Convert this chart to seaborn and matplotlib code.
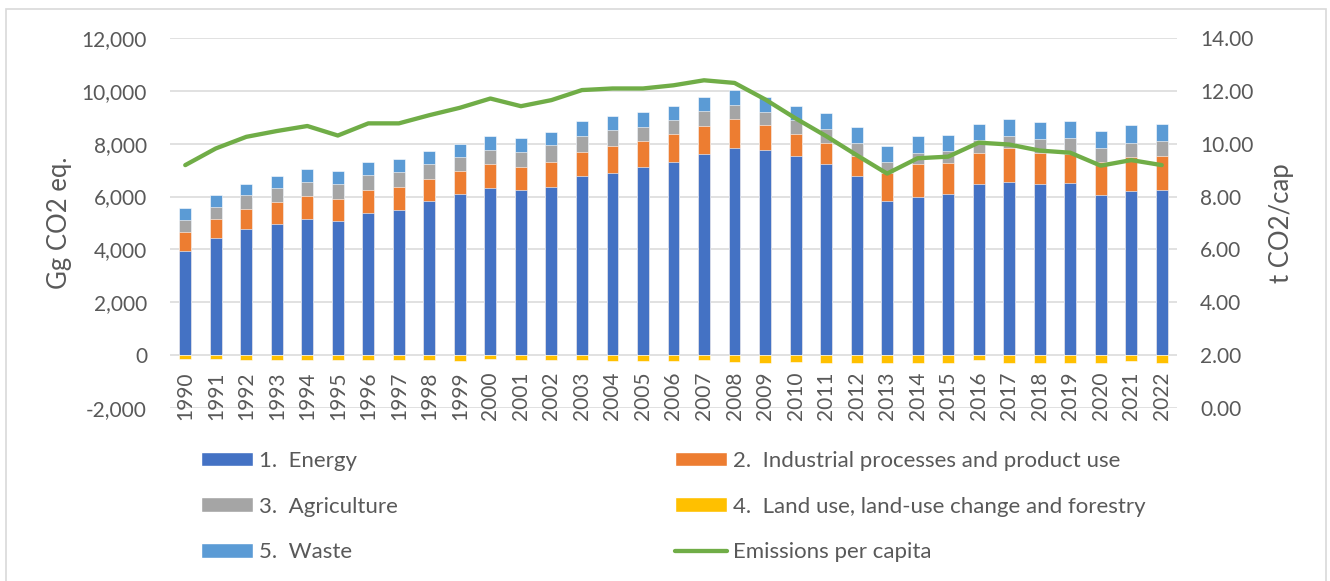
import numpy as np
import pandas as pd
import matplotlib
matplotlib.use("Agg")
import matplotlib.pyplot as plt
import seaborn as sns
from matplotlib.patches import Patch, Rectangle
from matplotlib.lines import Line2D
from matplotlib.ticker import FuncFormatter, FixedLocator

# ---------------- data ----------------
years = [str(y) for y in range(1990, 2023)]
energy = [3930, 4450, 4790, 4960, 5170, 5080, 5380, 5510, 5850, 6110,
          6340, 6230, 6380, 6790, 6910, 7130, 7310, 7620, 7850, 7770,
          7550, 7250, 6760, 5830, 5980, 6100, 6490, 6570, 6490, 6530,
          6050, 6200, 6240]
ippu = [730, 705, 755, 845, 870, 830, 880, 870, 830, 855,
        880, 880, 930, 905, 1020, 980, 1045, 1055, 1070, 920,
        805, 795, 770, 1045, 1245, 1160, 1170, 1260, 1145, 1070,
        1270, 1285, 1310]
agriculture = [465, 455, 505, 515, 515, 555, 565, 540, 555, 530,
               540, 590, 630, 615, 580, 540, 540, 555, 530, 505,
               540, 515, 505, 415, 440, 450, 480, 465, 540, 615,
               515, 540, 540]
lulucf = [-160, -150, -190, -175, -200, -200, -200, -200, -200, -210,
          -140, -190, -200, -200, -210, -225, -240, -190, -250, -280,
          -265, -290, -290, -290, -290, -290, -190, -290, -290, -290,
          -290, -225, -290]
waste = [440, 455, 440, 465, 490, 490, 480, 490, 490, 505,
         515, 515, 515, 540, 555, 555, 540, 555, 565, 565,
         540, 590, 590, 605, 615, 615, 615, 630, 640, 655,
         655, 665, 655]
per_capita = [9.19, 9.82, 10.26, 10.48, 10.67, 10.31, 10.77, 10.77, 11.08, 11.36,
              11.71, 11.42, 11.65, 12.03, 12.09, 12.09, 12.21, 12.40, 12.30, 11.68,
              10.96, 10.29, 9.57, 8.87, 9.45, 9.51, 10.04, 9.97, 9.74, 9.66,
              9.17, 9.38, 9.19]
labels = ["1.  Energy", "2.  Industrial processes and product use",
          "3.  Agriculture", "4.  Land use, land-use change and forestry",
          "5.  Waste", "Emissions per capita"]
left_ticks = [-2000, 0, 2000, 4000, 6000, 8000, 10000, 12000]
right_ticks = [0, 2, 4, 6, 8, 10, 12, 14]

# ---------------- style ----------------
C_EN, C_IP, C_AG, C_LU, C_WA, C_LINE = "#4472C4", "#ED7D31", "#A5A5A5", "#FFC000", "#5B9BD5", "#70AD47"
TXT = "#595959"
GRID = "#D9D9D9"
FS = 15       # tick labels
FS_LEG = 16   # legend
FS_LAB = 18.5 # axis titles

sns.set_theme(style="white")
plt.rcParams["font.family"] = ["Lato", "DejaVu Sans"]

df = pd.DataFrame({"year": years, "energy": energy, "ippu": ippu,
                   "agri": agriculture, "lulucf": lulucf, "waste": waste,
                   "pc": per_capita})
df["c1"] = df["energy"]
df["c2"] = df["c1"] + df["ippu"]
df["c3"] = df["c2"] + df["agri"]
df["c4"] = df["c3"] + df["waste"]

fig = plt.figure(figsize=(13.3, 5.81), dpi=100)
W, H = 1330, 581
ax = fig.add_axes([170 / W, 1 - 408 / H, (1177 - 170) / W, (408 - 38) / H])

# gridlines
for t in left_ticks:
    ax.axhline(t, color=GRID, lw=1.1, zorder=0)

bw = 0.39
common = dict(ax=ax, width=bw, saturation=1, errorbar=None,
              edgecolor="white", linewidth=0.4, zorder=2)
sns.barplot(data=df, x="year", y="c4", color=C_WA, **common)
sns.barplot(data=df, x="year", y="c3", color=C_AG, **common)
sns.barplot(data=df, x="year", y="c2", color=C_IP, **common)
sns.barplot(data=df, x="year", y="c1", color=C_EN, **common)
sns.barplot(data=df, x="year", y="lulucf", color=C_LU, **common)

ax.set_ylim(-2000, 12000)
ax.set_xlim(-0.5, len(years) - 0.5)
ax.yaxis.set_major_locator(FixedLocator(left_ticks))
ax.yaxis.set_major_formatter(FuncFormatter(lambda v, p: f"{int(v):,}"))
for s in ax.spines.values():
    s.set_visible(False)
ax.spines["bottom"].set_position(("data", 0))
ax.tick_params(axis="y", length=0, pad=16.5, labelsize=FS, labelcolor=TXT)
ax.tick_params(axis="x", length=0, pad=12, labelsize=FS, labelcolor=TXT, rotation=90)
ax.set_xlabel("")
ax.set_ylabel("")

ax2 = ax.twinx()
sns.lineplot(x=np.arange(len(years)), y=per_capita, ax=ax2, color=C_LINE,
             lw=3.1, solid_capstyle="round", zorder=5)
ax2.set_ylim(0, 14)
ax2.set_xlim(-0.5, len(years) - 0.5)
ax2.yaxis.set_major_locator(FixedLocator(right_ticks))
ax2.yaxis.set_major_formatter(FuncFormatter(lambda v, p: f"{v:.2f}"))
for s in ax2.spines.values():
    s.set_visible(False)
ax2.tick_params(axis="y", length=0, pad=16.5, labelsize=FS, labelcolor=TXT)
ax2.set_ylabel("")
ax2.grid(False)

# axis titles
fig.text(60 / W, 1 - 223 / H, "Gg CO2 eq.", rotation=90, ha="center", va="center",
         fontsize=FS_LAB, color=TXT)
fig.text(1282 / W, 1 - 223 / H, "t CO2/cap", rotation=90, ha="center", va="center",
         fontsize=FS_LAB, color=TXT)

# legends
h1 = [Patch(facecolor=C_EN), Patch(facecolor=C_AG), Patch(facecolor=C_WA)]
l1 = [labels[0], labels[2], labels[4]]
h2 = [Patch(facecolor=C_IP), Patch(facecolor=C_LU),
      Line2D([], [], color=C_LINE, lw=3.1, solid_capstyle="round")]
l2 = [labels[1], labels[3], labels[5]]
fpx = FS_LEG * 100 / 72
lkw = dict(loc="upper left", frameon=False, fontsize=FS_LEG, labelcolor=TXT,
           handlelength=52 / fpx, handleheight=14 / fpx, handletextpad=6 / fpx,
           labelspacing=1.15, borderpad=0, borderaxespad=0)
top = 1 - 451 / H
leg1 = fig.legend(h1, l1, bbox_to_anchor=(201 / W, top), **lkw)
leg2 = fig.legend(h2, l2, bbox_to_anchor=(675 / W, top), **lkw)

# chart border
fig.patches.append(Rectangle((6 / W, -0.05), (1326 - 6) / W, 1.05 - 9 / H,
                             transform=fig.transFigure, fill=False,
                             edgecolor=GRID, lw=1.2))

fig.savefig("out.png", dpi=100, facecolor="white")
